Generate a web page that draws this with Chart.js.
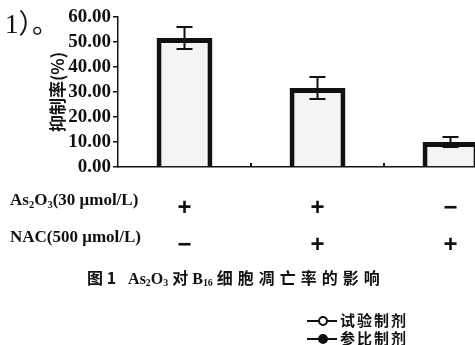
<!DOCTYPE html>
<html>
<head>
<meta charset="utf-8">
<script src="https://cdn.jsdelivr.net/npm/chart.js@4.4.0/dist/chart.umd.min.js"></script>
<style>
html, body { margin: 0; padding: 0; background: #fff; }
#wrap { position: relative; width: 475px; height: 345px; overflow: hidden; }
#wrap canvas { position: absolute; left: 0; top: 0; }
.txt { position: absolute; color: #111; white-space: nowrap; }
.serif { font-family: "Liberation Serif", "DejaVu Serif", serif; font-weight: bold; }
.cjk { font-family: "Noto Sans CJK SC", sans-serif; font-weight: bold; }
sub { font-size: 62%; vertical-align: -0.25em; line-height: 0; }
.leg { position: absolute; left: 307px; width: 30px; height: 0; border-top: 2px solid #111; }
.leg i { position: absolute; left: 11px; top: -6px; width: 6px; height: 6px; border: 2px solid #111; border-radius: 50%; background: #fff; }
.leg i.fill { background: #111; }
</style>
</head>
<body>
<div id="wrap">
  <canvas id="barChart" width="520" height="345"></canvas>
  <div class="txt serif" style="left:5px; top:2px; font-size:27px; font-weight:normal;">1<span class="cjk" style="font-weight:normal">）。</span></div>
  <div class="txt serif" style="left:10px; top:190px; font-size:17px;">As<sub>2</sub>O<sub>3</sub>(30 μmol/L)</div>
  <div class="txt serif" style="left:10px; top:227px; font-size:17px;">NAC(500 μmol/L)</div>
  <div class="txt" style="left:87px; top:265px; font-size:16px;">
    <span class="cjk">图 1</span>&nbsp;&nbsp;&nbsp;<span class="serif">As<sub>2</sub>O<sub>3</sub></span> <span class="cjk">对</span> <span class="serif">B<sub>16</sub></span> <span class="cjk" style="letter-spacing:5px">细胞凋亡率的影响</span>
  </div>
  <div class="leg" style="top:320px;"><i></i></div>
  <div class="txt cjk" style="left:340px; top:309px; font-size:15px; letter-spacing:2px;">试验制剂</div>
  <div class="leg" style="top:338px;"><i class="fill"></i></div>
  <div class="txt cjk" style="left:340px; top:327px; font-size:15px; letter-spacing:2px;">参比制剂</div>
</div>
<script>
// treatment groups (+ / − for each agent)
const as2o3Signs = ['+', '+', '−'];
const nacSigns = ['−', '+', '+'];
// inhibition rate (%) and error bar half-length
const inhibition = [51.6, 31.6, 10.0];
const errors = [4.4, 4.4, 2.0];

const labels = as2o3Signs.map((s, i) => [s, nacSigns[i]]);

// error bars and the small marks between groups
const errorBarPlugin = {
    id: 'errorBars',
    afterDatasetsDraw(chart) {
        const ctx = chart.ctx;
        const y = chart.scales.y;
        const xs = chart.scales.x;
        const meta = chart.getDatasetMeta(0);
        ctx.save();
        ctx.strokeStyle = '#111';
        ctx.lineWidth = 2;
        ctx.beginPath();
        meta.data.forEach((bar, i) => {
            const x = bar.x;
            const top = y.getPixelForValue(inhibition[i] + errors[i]);
            const bot = y.getPixelForValue(inhibition[i] - errors[i]);
            ctx.moveTo(x, top); ctx.lineTo(x, bot);
            ctx.moveTo(x - 8, top); ctx.lineTo(x + 8, top);
            ctx.moveTo(x - 8, bot); ctx.lineTo(x + 8, bot);
        });
        for (let i = 1; i < inhibition.length; i++) {
            const bx = (xs.getPixelForValue(i - 1) + xs.getPixelForValue(i)) / 2;
            ctx.moveTo(bx, xs.top); ctx.lineTo(bx, xs.top - 4);
        }
        ctx.stroke();
        ctx.restore();
    }
};

const ctx = document.getElementById('barChart').getContext('2d');
new Chart(ctx, {
    type: 'bar',
    data: {
        labels: labels,
        datasets: [{
            data: inhibition,
            backgroundColor: '#f4f4f4',
            borderColor: '#111',
            borderWidth: 5,
            barPercentage: 0.42,
            categoryPercentage: 1
        }]
    },
    options: {
        responsive: false,
        animation: false,
        layout: { padding: { left: 47, top: 17, right: 3, bottom: 0 } },
        plugins: { legend: { display: false }, tooltip: { enabled: false } },
        scales: {
            x: {
                grid: { display: false },
                border: { display: true, color: '#111', width: 1.5 },
                ticks: {
                    color: '#111',
                    padding: 15,
                    maxRotation: 0,
                    autoSkip: false,
                    font: { family: 'Liberation Sans', size: 24, weight: 'bold', lineHeight: 37 / 24 }
                },
                afterFit: s => { s.height = 178; }
            },
            y: {
                min: 0,
                max: 60,
                ticks: {
                    stepSize: 10,
                    autoSkip: false,
                    color: '#111',
                    padding: 2,
                    callback: v => v.toFixed(2),
                    font: { family: 'Liberation Serif', size: 19, weight: 'bold', lineHeight: 1 }
                },
                grid: { drawOnChartArea: false, drawTicks: true, tickLength: 5, color: '#111', lineWidth: 1.5 },
                border: { color: '#111', width: 1.5 },
                title: {
                    display: true,
                    text: '抑制率(%)',
                    color: '#111',
                    padding: { top: 0, bottom: 0 },
                    font: { family: 'Noto Sans CJK SC', size: 17, weight: 'bold' }
                },
                afterFit: s => { s.width = 71; }
            }
        }
    },
    plugins: [errorBarPlugin]
});
</script>
</body>
</html>
